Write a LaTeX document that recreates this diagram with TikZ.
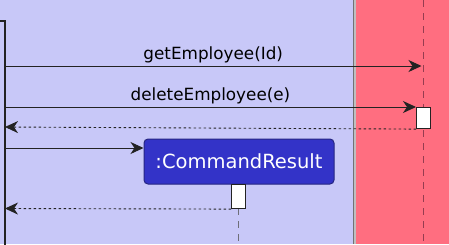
\documentclass[tikz,border=0pt]{standalone}
\usepackage{fontspec}
\setmainfont{DejaVu Sans}
\usetikzlibrary{arrows.meta}

\definecolor{logicbg}{RGB}{200,200,248}
\definecolor{modelbg}{RGB}{255,110,128}
\definecolor{objfill}{RGB}{51,51,200}
\definecolor{objline}{RGB}{38,38,130}
\definecolor{wire}{RGB}{35,35,35}
\definecolor{lifered}{RGB}{150,60,80}
\definecolor{lifegray}{RGB}{110,110,120}

\tikzset{
  msg/.style={draw=wire, line width=1pt, -{Stealth[length=13pt,width=12pt,inset=4pt]}},
  reply/.style={draw=wire, line width=0.9pt, dash pattern=on 2.5pt off 2.5pt,
                -{Stealth[length=13pt,width=12pt,inset=4pt]}},
  msglabel/.style={font=\fontsize{16.8}{19}\selectfont, text=black, inner sep=0pt, anchor=base},
  actbox/.style={draw=wire, line width=1.1pt, fill=white, inner sep=0pt, anchor=north west},
  lifeline/.style={line width=1pt, dash pattern=on 7pt off 6pt},
}

\begin{document}
\begin{tikzpicture}[x=1pt,y=-1pt]
  \useasboundingbox (0,0) rectangle (449,244);

  % lanes
  \fill[logicbg] (0,0) rectangle (354,244);
  \fill[modelbg] (355,0) rectangle (449,244);
  \fill[black!25] (353,0) rectangle (356,244);
  \draw[black!55, line width=0.8pt] (353.6,0) -- (353.6,244);

  % lifeline of the model
  \draw[lifeline, lifered] (423,0) -- (423,244);

  % activation of the caller (left)
  \draw[wire, line width=1.1pt] (-5,21) -- (5,21) -- (5,250);
  \coordinate (caller1) at (5,66);
  \coordinate (caller2) at (5,107);
  \coordinate (caller3) at (5,127);
  \coordinate (caller4) at (5,148);
  \coordinate (caller5) at (5,208.5);

  % model lifeline targets
  \coordinate (model1) at (421.5,66);
  \node[actbox, minimum width=14pt, minimum height=21pt] (dbact) at (416,107) {};

  % CommandResult object and its activation
  \node[draw=objline, fill=objfill, line width=1pt, rounded corners=4pt,
        minimum width=190pt, minimum height=45pt, inner sep=0pt,
        text=white, font=\fontsize{19.5}{22}\selectfont]
        (cr) at (239,161.5) {:CommandResult};
  \draw[lifeline, lifegray] (238,208) -- (238,244);
  \node[actbox, minimum width=14pt, minimum height=24pt] (cract) at (231,184) {};

  % messages
  \draw[msg] (caller1) -- (model1)
    node[msglabel, pos=0.5, yshift=7pt] {getEmployee(Id)};
  \draw[msg] (caller2) -- (dbact.north west)
    node[msglabel, pos=0.5, yshift=7pt] {deleteEmployee(e)};
  \draw[reply] (dbact.south west) -- (caller3);
  \draw[msg] (caller4) -- (cr.west |- caller4);
  \draw[reply] (cract.south west) -- (caller5);
\end{tikzpicture}
\end{document}
